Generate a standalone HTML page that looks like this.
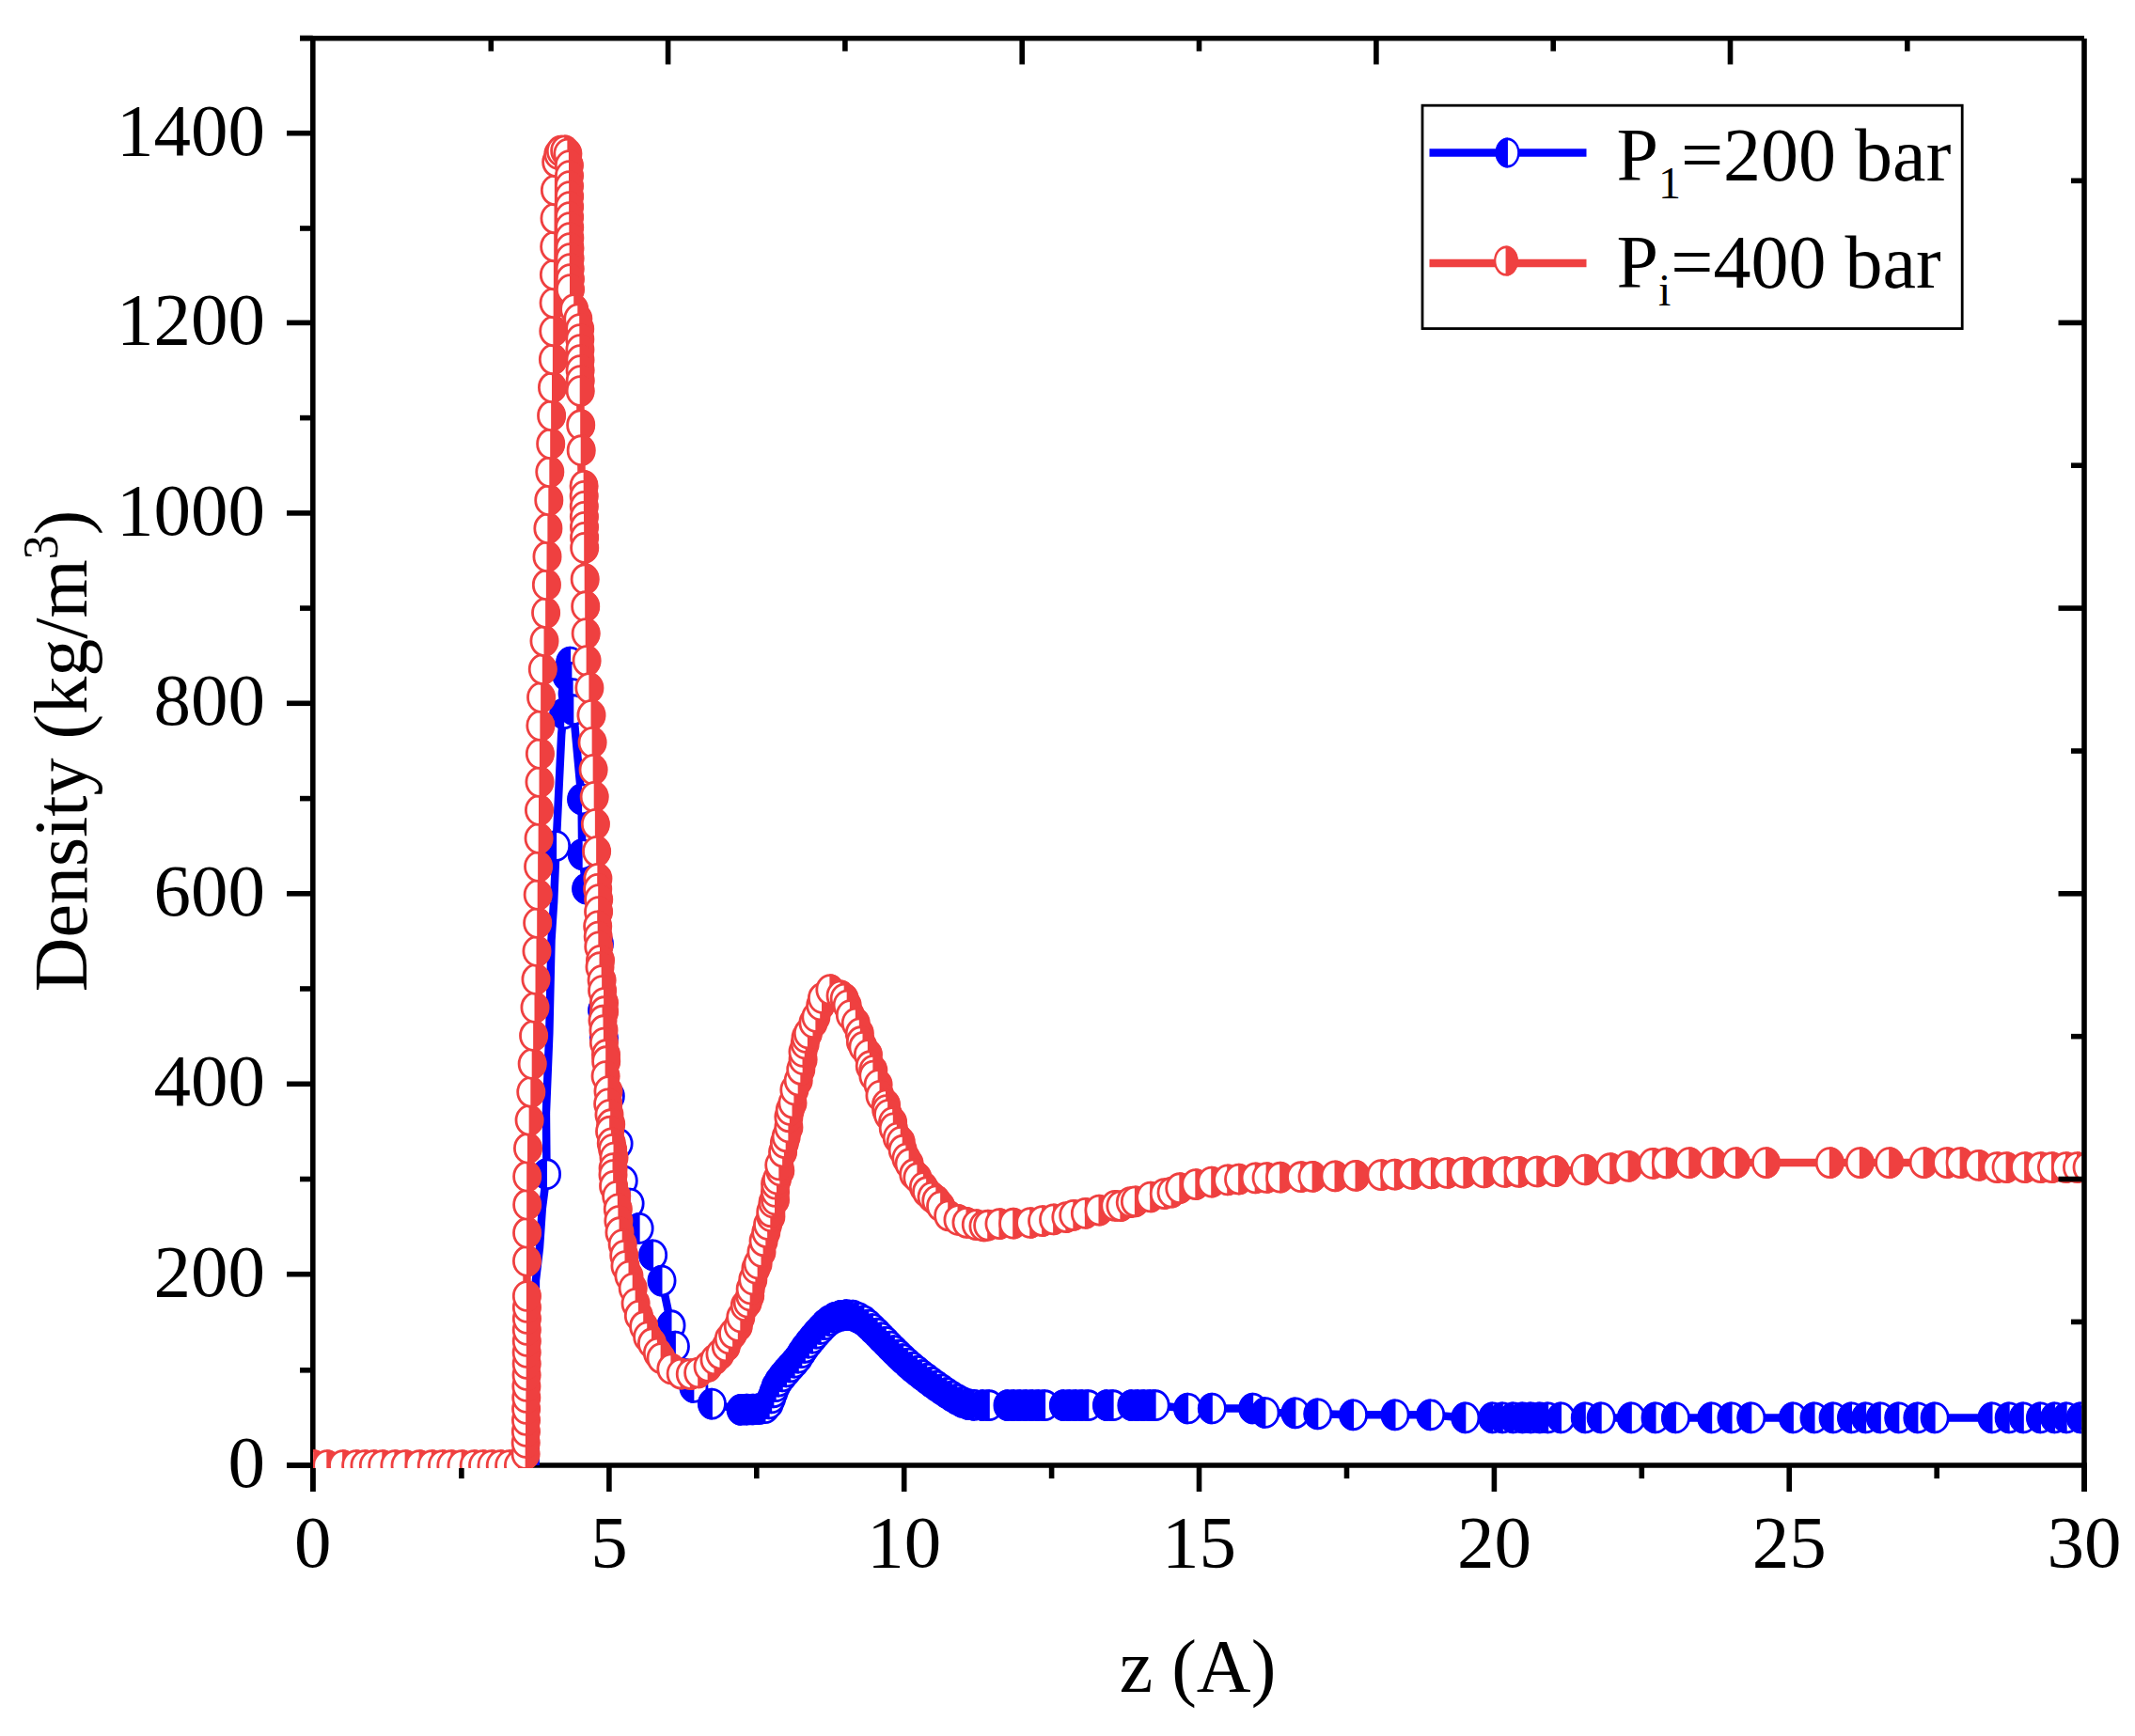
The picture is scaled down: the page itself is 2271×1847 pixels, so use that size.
<!DOCTYPE html>
<html lang="en"><head><meta charset="utf-8"><title>Density profile</title>
<style>html,body{margin:0;padding:0;background:#fff}body{width:2271px;height:1847px;overflow:hidden}svg{display:block}</style>
</head><body>
<svg width="2271" height="1847" viewBox="0 0 2271 1847">
<defs>
<clipPath id="cp"><rect x="333" y="38" width="1881.3" height="1524"/></clipPath>
<g id="mr"><ellipse rx="14.1" ry="15.45" fill="#fff" stroke="#ef4040" stroke-width="2.8"/><path d="M-0.5,-16.849999999999998 A15.5,16.849999999999998 0 0 1 -0.5,16.849999999999998 Z" fill="#ef4040"/></g>
<g id="mb"><ellipse rx="14.1" ry="15.45" fill="#fff" stroke="#0000ff" stroke-width="2.8"/><path d="M0.5,-16.849999999999998 A15.5,16.849999999999998 0 0 0 0.5,16.849999999999998 Z" fill="#0000ff"/></g>
</defs>
<rect width="2271" height="1847" fill="#fff"/>
<g stroke="#000" stroke-width="5.6" fill="none">
<line x1="332.8" y1="38" x2="332.8" y2="1587"/>
<line x1="305" y1="1559.0" x2="2219.8" y2="1559.0"/>
<line x1="305" y1="1559.0" x2="332.8" y2="1559.0"/>
<line x1="319" y1="1457.8" x2="332.8" y2="1457.8"/>
<line x1="305" y1="1355.7" x2="332.8" y2="1355.7"/>
<line x1="319" y1="1254.5" x2="332.8" y2="1254.5"/>
<line x1="305" y1="1153.3" x2="332.8" y2="1153.3"/>
<line x1="319" y1="1052.0" x2="332.8" y2="1052.0"/>
<line x1="305" y1="950.8" x2="332.8" y2="950.8"/>
<line x1="319" y1="849.6" x2="332.8" y2="849.6"/>
<line x1="305" y1="748.3" x2="332.8" y2="748.3"/>
<line x1="319" y1="647.1" x2="332.8" y2="647.1"/>
<line x1="305" y1="545.9" x2="332.8" y2="545.9"/>
<line x1="319" y1="444.6" x2="332.8" y2="444.6"/>
<line x1="305" y1="343.4" x2="332.8" y2="343.4"/>
<line x1="319" y1="243.0" x2="332.8" y2="243.0"/>
<line x1="305" y1="141.7" x2="332.8" y2="141.7"/>
<line x1="319" y1="40.5" x2="332.8" y2="40.5"/>
<line x1="332.8" y1="1559.0" x2="332.8" y2="1587"/>
<line x1="490.9" y1="1559.0" x2="490.9" y2="1573"/>
<line x1="647.9" y1="1559.0" x2="647.9" y2="1587"/>
<line x1="804.8" y1="1559.0" x2="804.8" y2="1573"/>
<line x1="961.7" y1="1559.0" x2="961.7" y2="1587"/>
<line x1="1118.6" y1="1559.0" x2="1118.6" y2="1573"/>
<line x1="1275.5" y1="1559.0" x2="1275.5" y2="1587"/>
<line x1="1432.5" y1="1559.0" x2="1432.5" y2="1573"/>
<line x1="1589.4" y1="1559.0" x2="1589.4" y2="1587"/>
<line x1="1746.3" y1="1559.0" x2="1746.3" y2="1573"/>
<line x1="1903.2" y1="1559.0" x2="1903.2" y2="1587"/>
<line x1="2060.2" y1="1559.0" x2="2060.2" y2="1573"/>
<line x1="2217.1" y1="1559.0" x2="2217.1" y2="1587"/>
</g>
<g clip-path="url(#cp)">
<polyline fill="none" stroke="#0000ff" stroke-width="8.5" stroke-linejoin="round" points="569.6,1559.0 569.9,1362.6 574.0,1327.2 576.8,1285.7 581.5,1249.2 580.9,1184.4 584.3,1099.4 586.5,1000.2 589.1,959.7 591.6,900.0 597.2,781.5 602.9,718.8 606.6,704.6 607.9,720.8 609.1,738.0 609.8,755.2 618.6,850.4 619.2,909.1 623.6,945.5 637.4,1004.2 640.6,1075.1 642.4,1104.5 649.3,1166.2 658.1,1216.8 663.2,1256.3 670.1,1280.6 680.1,1306.9 694.6,1335.3 704.0,1362.6 714.0,1410.2 718.4,1432.5 728.5,1461.8 737.9,1476.0 757.4,1493.6 788.1,1499.8 789.4,1499.8 791.0,1499.7 793.0,1499.7 795.2,1499.7 797.5,1499.7 799.8,1499.6 801.9,1499.5 803.9,1499.3 805.6,1499.1 807.3,1499.1 808.9,1499.2 810.5,1499.1 812.1,1498.9 813.6,1498.4 815.0,1497.6 816.4,1496.2 817.7,1494.3 819.0,1491.8 820.2,1488.9 821.3,1485.7 822.4,1482.5 823.6,1479.3 824.7,1476.4 825.8,1474.0 827.0,1471.9 828.1,1470.1 829.2,1468.4 830.3,1466.9 831.5,1465.4 832.7,1464.0 833.9,1462.4 835.3,1460.8 836.7,1459.1 838.2,1457.4 839.8,1455.7 841.4,1454.0 843.0,1452.2 844.6,1450.4 846.3,1448.6 847.8,1446.6 849.3,1444.7 850.6,1442.7 851.9,1440.7 853.2,1438.7 854.5,1436.5 856.0,1434.3 857.7,1431.9 859.7,1429.4 862.1,1426.6 864.7,1423.4 867.6,1420.0 870.6,1416.6 873.6,1413.2 876.7,1410.1 879.6,1407.3 882.4,1405.1 885.0,1403.4 887.5,1402.1 890.1,1401.0 892.6,1400.3 895.0,1399.7 897.3,1399.4 899.6,1399.2 901.8,1399.1 903.9,1399.1 905.9,1399.4 907.9,1399.8 909.7,1400.4 911.5,1401.2 913.3,1402.1 915.1,1403.1 916.9,1404.1 918.6,1405.2 920.0,1406.2 921.3,1407.3 922.7,1408.5 924.2,1409.9 926.0,1411.6 928.1,1413.7 930.7,1416.3 933.9,1419.4 937.6,1423.1 941.6,1427.2 945.9,1431.6 950.3,1436.1 954.8,1440.6 959.2,1444.8 963.4,1448.7 967.4,1452.2 971.5,1455.6 975.6,1459.0 979.6,1462.2 983.7,1465.3 987.6,1468.3 991.6,1471.2 995.4,1474.0 999.2,1476.7 1003.1,1479.4 1006.9,1482.0 1010.7,1484.5 1014.4,1486.8 1017.9,1488.9 1021.2,1490.7 1024.3,1492.2 1027.2,1493.3 1030.0,1494.1 1032.7,1494.6 1035.2,1494.8 1037.5,1495.0 1039.5,1495.0 1041.2,1495.1 1042.5,1495.2 1045.7,1495.2 1052.3,1495.2 1072.0,1495.2 1078.6,1495.2 1085.2,1495.2 1091.8,1495.2 1098.4,1495.2 1105.0,1495.2 1111.6,1495.2 1131.4,1495.2 1138.0,1495.2 1144.6,1495.2 1151.2,1495.2 1157.8,1495.2 1177.5,1495.2 1184.1,1495.2 1203.9,1495.2 1210.5,1495.2 1217.1,1495.2 1223.7,1495.2 1229.1,1495.2 1263.6,1498.5 1289.3,1498.5 1332.7,1498.5 1345.9,1503.0 1377.9,1503.3 1401.8,1504.3 1439.5,1505.3 1484.0,1505.3 1521.7,1505.3 1558.8,1508.4 1587.7,1508.4 1598.4,1508.4 1609.7,1508.4 1619.7,1508.4 1628.5,1508.4 1637.9,1508.4 1646.7,1508.4 1660.5,1508.4 1686.3,1508.4 1703.2,1508.4 1735.3,1508.4 1761.0,1508.4 1782.4,1508.4 1820.7,1508.4 1842.0,1508.4 1862.8,1508.4 1907.4,1508.4 1930.0,1508.4 1950.1,1508.4 1969.5,1508.4 1984.6,1508.4 2000.3,1508.4 2019.8,1508.4 2039.9,1508.4 2058.1,1508.4 2119.0,1508.4 2137.2,1508.4 2152.3,1508.4 2170.5,1508.4 2185.6,1508.4 2198.2,1508.4 2213.2,1508.4 2223.3,1508.4"/>
<use href="#mb" x="581.5" y="1249.2"/><use href="#mb" x="591.6" y="900.0"/><use href="#mb" x="599.7" y="759.3"/><use href="#mb" x="602.9" y="718.8"/><use href="#mb" x="606.6" y="704.6"/><use href="#mb" x="607.9" y="720.8"/><use href="#mb" x="609.1" y="738.0"/><use href="#mb" x="609.8" y="755.2"/><use href="#mb" x="618.6" y="850.4"/><use href="#mb" x="619.2" y="909.1"/><use href="#mb" x="623.6" y="945.5"/><use href="#mb" x="637.4" y="1004.2"/><use href="#mb" x="640.6" y="1075.1"/><use href="#mb" x="642.4" y="1104.5"/><use href="#mb" x="649.3" y="1166.2"/><use href="#mb" x="658.1" y="1216.8"/><use href="#mb" x="663.2" y="1256.3"/><use href="#mb" x="670.1" y="1280.6"/><use href="#mb" x="680.1" y="1306.9"/><use href="#mb" x="694.6" y="1335.3"/><use href="#mb" x="704.0" y="1362.6"/><use href="#mb" x="714.0" y="1410.2"/><use href="#mb" x="718.4" y="1432.5"/><use href="#mb" x="728.5" y="1461.8"/><use href="#mb" x="737.9" y="1476.0"/><use href="#mb" x="757.4" y="1493.6"/><use href="#mb" x="788.1" y="1499.8"/><use href="#mb" x="794.6" y="1499.7"/><use href="#mb" x="801.1" y="1499.5"/><use href="#mb" x="807.6" y="1499.1"/><use href="#mb" x="814.0" y="1498.2"/><use href="#mb" x="818.2" y="1493.4"/><use href="#mb" x="820.7" y="1487.4"/><use href="#mb" x="822.9" y="1481.3"/><use href="#mb" x="825.2" y="1475.2"/><use href="#mb" x="828.4" y="1469.6"/><use href="#mb" x="832.3" y="1464.4"/><use href="#mb" x="836.5" y="1459.4"/><use href="#mb" x="840.8" y="1454.5"/><use href="#mb" x="845.2" y="1449.7"/><use href="#mb" x="849.3" y="1444.7"/><use href="#mb" x="852.8" y="1439.2"/><use href="#mb" x="856.4" y="1433.8"/><use href="#mb" x="860.4" y="1428.7"/><use href="#mb" x="864.5" y="1423.7"/><use href="#mb" x="868.7" y="1418.7"/><use href="#mb" x="873.1" y="1413.9"/><use href="#mb" x="877.6" y="1409.2"/><use href="#mb" x="882.6" y="1405.0"/><use href="#mb" x="888.2" y="1401.8"/><use href="#mb" x="894.4" y="1399.8"/><use href="#mb" x="900.8" y="1399.1"/><use href="#mb" x="907.3" y="1399.7"/><use href="#mb" x="913.3" y="1402.1"/><use href="#mb" x="918.9" y="1405.4"/><use href="#mb" x="923.9" y="1409.6"/><use href="#mb" x="928.5" y="1414.1"/><use href="#mb" x="933.2" y="1418.7"/><use href="#mb" x="937.7" y="1423.3"/><use href="#mb" x="942.3" y="1427.9"/><use href="#mb" x="946.8" y="1432.6"/><use href="#mb" x="951.4" y="1437.2"/><use href="#mb" x="956.0" y="1441.7"/><use href="#mb" x="960.7" y="1446.2"/><use href="#mb" x="965.6" y="1450.6"/><use href="#mb" x="970.5" y="1454.8"/><use href="#mb" x="975.5" y="1458.9"/><use href="#mb" x="980.6" y="1463.0"/><use href="#mb" x="985.8" y="1466.9"/><use href="#mb" x="991.0" y="1470.8"/><use href="#mb" x="996.3" y="1474.6"/><use href="#mb" x="1001.6" y="1478.3"/><use href="#mb" x="1007.0" y="1482.0"/><use href="#mb" x="1012.4" y="1485.5"/><use href="#mb" x="1018.0" y="1488.9"/><use href="#mb" x="1023.7" y="1491.9"/><use href="#mb" x="1029.9" y="1494.0"/><use href="#mb" x="1036.3" y="1494.9"/><use href="#mb" x="1045.7" y="1495.2"/><use href="#mb" x="1052.3" y="1495.2"/><use href="#mb" x="1072.0" y="1495.2"/><use href="#mb" x="1078.6" y="1495.2"/><use href="#mb" x="1085.2" y="1495.2"/><use href="#mb" x="1091.8" y="1495.2"/><use href="#mb" x="1098.4" y="1495.2"/><use href="#mb" x="1105.0" y="1495.2"/><use href="#mb" x="1111.6" y="1495.2"/><use href="#mb" x="1131.4" y="1495.2"/><use href="#mb" x="1138.0" y="1495.2"/><use href="#mb" x="1144.6" y="1495.2"/><use href="#mb" x="1151.2" y="1495.2"/><use href="#mb" x="1157.8" y="1495.2"/><use href="#mb" x="1177.5" y="1495.2"/><use href="#mb" x="1184.1" y="1495.2"/><use href="#mb" x="1203.9" y="1495.2"/><use href="#mb" x="1210.5" y="1495.2"/><use href="#mb" x="1217.1" y="1495.2"/><use href="#mb" x="1223.7" y="1495.2"/><use href="#mb" x="1229.1" y="1495.2"/><use href="#mb" x="1263.6" y="1498.5"/><use href="#mb" x="1289.3" y="1498.5"/><use href="#mb" x="1332.7" y="1498.5"/><use href="#mb" x="1345.9" y="1503.0"/><use href="#mb" x="1377.9" y="1503.3"/><use href="#mb" x="1401.8" y="1504.3"/><use href="#mb" x="1439.5" y="1505.3"/><use href="#mb" x="1484.0" y="1505.3"/><use href="#mb" x="1521.7" y="1505.3"/><use href="#mb" x="1558.8" y="1508.4"/><use href="#mb" x="1587.7" y="1508.4"/><use href="#mb" x="1598.4" y="1508.4"/><use href="#mb" x="1609.7" y="1508.4"/><use href="#mb" x="1619.7" y="1508.4"/><use href="#mb" x="1628.5" y="1508.4"/><use href="#mb" x="1637.9" y="1508.4"/><use href="#mb" x="1646.7" y="1508.4"/><use href="#mb" x="1660.5" y="1508.4"/><use href="#mb" x="1686.3" y="1508.4"/><use href="#mb" x="1703.2" y="1508.4"/><use href="#mb" x="1735.3" y="1508.4"/><use href="#mb" x="1761.0" y="1508.4"/><use href="#mb" x="1782.4" y="1508.4"/><use href="#mb" x="1820.7" y="1508.4"/><use href="#mb" x="1842.0" y="1508.4"/><use href="#mb" x="1862.8" y="1508.4"/><use href="#mb" x="1907.4" y="1508.4"/><use href="#mb" x="1930.0" y="1508.4"/><use href="#mb" x="1950.1" y="1508.4"/><use href="#mb" x="1969.5" y="1508.4"/><use href="#mb" x="1984.6" y="1508.4"/><use href="#mb" x="2000.3" y="1508.4"/><use href="#mb" x="2019.8" y="1508.4"/><use href="#mb" x="2039.9" y="1508.4"/><use href="#mb" x="2058.1" y="1508.4"/><use href="#mb" x="2119.0" y="1508.4"/><use href="#mb" x="2137.2" y="1508.4"/><use href="#mb" x="2152.3" y="1508.4"/><use href="#mb" x="2170.5" y="1508.4"/><use href="#mb" x="2185.6" y="1508.4"/><use href="#mb" x="2198.2" y="1508.4"/><use href="#mb" x="2213.2" y="1508.4"/><use href="#mb" x="2223.3" y="1508.4"/>
<polyline fill="none" stroke="#ef4040" stroke-width="8.5" stroke-linejoin="round" points="332.8,1559.0 555.8,1559.0 558.9,1559.0 560.2,1457.8 560.5,1371.7 560.8,1235.1 565.2,1154.1 569.0,1073.1 571.5,997.2 575.2,749.1 580.9,647.9 582.1,587.2 588.4,383.7 590.3,203.5 591.9,168.1 595.3,161.0 600.4,160.0 605.4,165.0 605.7,243.0 606.6,318.9 616.7,344.2 617.3,425.2 618.6,506.2 621.1,516.3 621.7,587.2 623.6,698.5 628.6,749.1 631.8,838.2 636.2,941.5 636.2,944.8 636.2,948.3 636.2,952.5 636.2,957.5 636.3,963.9 636.5,971.9 636.9,981.8 637.4,994.1 638.1,1009.5 639.1,1028.1 640.1,1049.0 641.3,1071.3 642.5,1094.2 643.7,1116.9 645.0,1138.5 646.2,1158.1 647.4,1176.6 648.7,1195.1 650.1,1213.4 651.5,1230.9 652.8,1247.5 654.1,1262.7 655.2,1276.2 656.3,1287.7 657.1,1296.5 657.7,1302.6 658.1,1306.9 658.5,1309.8 659.0,1312.3 659.5,1314.8 660.3,1318.2 661.3,1323.1 662.6,1329.5 664.1,1336.7 665.8,1344.4 667.6,1352.4 669.5,1360.4 671.4,1368.1 673.3,1375.4 675.1,1381.8 676.8,1387.6 678.4,1392.8 680.0,1397.7 681.6,1402.2 683.2,1406.6 685.0,1410.8 686.9,1415.0 688.9,1419.3 691.2,1423.7 693.6,1428.2 696.2,1432.7 698.8,1437.1 701.5,1441.3 704.3,1445.1 707.0,1448.6 709.6,1451.7 712.4,1454.3 715.4,1456.4 718.5,1458.3 721.6,1459.8 724.5,1461.1 727.1,1462.1 729.3,1463.0 731.0,1463.8 732.8,1463.1 735.1,1462.3 738.0,1461.3 741.1,1460.1 744.4,1458.8 747.7,1457.3 750.8,1455.6 753.6,1453.7 756.1,1451.7 758.6,1449.6 760.9,1447.4 763.3,1445.0 765.5,1442.3 767.8,1439.4 770.1,1436.1 772.4,1432.5 774.8,1428.5 777.1,1424.4 779.4,1419.9 781.7,1415.2 784.0,1410.1 786.4,1404.5 788.8,1398.5 791.3,1392.0 793.9,1384.8 796.7,1377.0 799.6,1368.6 802.5,1359.9 805.3,1350.9 808.1,1341.6 810.8,1332.4 813.3,1323.1 815.5,1313.9 817.6,1304.4 819.6,1294.8 821.5,1285.1 823.3,1275.3 825.2,1265.3 827.0,1255.3 829.0,1245.2 831.0,1234.9 833.0,1224.3 835.0,1213.6 837.0,1202.8 839.0,1192.1 841.1,1181.5 843.2,1171.2 845.3,1161.2 847.5,1151.2 849.7,1141.2 852.0,1131.3 854.3,1121.5 856.6,1112.2 858.9,1103.5 861.2,1095.4 863.5,1088.3 865.9,1081.9 868.3,1076.1 870.7,1071.0 873.1,1066.4 875.5,1062.5 877.9,1059.3 880.1,1056.7 882.4,1054.9 884.5,1053.8 886.5,1053.4 888.4,1053.8 890.3,1054.9 892.2,1056.5 894.1,1058.6 896.1,1061.1 898.1,1064.0 900.1,1067.3 902.1,1071.3 904.2,1075.7 906.2,1080.7 908.3,1086.0 910.5,1091.6 912.7,1097.4 915.0,1103.5 917.4,1109.8 919.9,1116.6 922.4,1123.7 925.0,1131.1 927.6,1138.6 930.3,1146.2 933.0,1153.8 935.7,1161.2 938.5,1168.6 941.4,1176.2 944.4,1184.0 947.4,1191.7 950.3,1199.3 953.3,1206.6 956.2,1213.5 959.0,1219.9 961.6,1225.7 964.2,1231.1 966.6,1236.0 969.0,1240.7 971.5,1245.2 974.1,1249.6 976.8,1254.0 979.7,1258.3 982.9,1262.8 986.2,1267.3 989.7,1271.8 993.3,1276.2 996.9,1280.3 1000.6,1284.2 1004.3,1287.7 1008.0,1290.7 1011.6,1293.3 1015.1,1295.5 1018.6,1297.3 1022.2,1298.9 1025.9,1300.2 1029.6,1301.2 1033.5,1302.1 1037.5,1302.9 1041.7,1303.4 1045.9,1303.6 1050.3,1303.6 1054.8,1303.4 1059.4,1303.0 1064.1,1302.6 1069.0,1302.2 1073.9,1301.9 1079.0,1301.5 1084.3,1301.2 1089.8,1300.8 1095.3,1300.4 1100.9,1299.9 1106.6,1299.3 1112.2,1298.6 1117.9,1297.8 1123.5,1296.8 1129.2,1295.7 1134.8,1294.5 1140.5,1293.1 1146.3,1291.8 1152.0,1290.4 1157.9,1289.0 1163.7,1287.7 1169.7,1286.4 1175.9,1285.2 1182.2,1283.9 1188.4,1282.7 1194.6,1281.4 1200.7,1280.2 1206.5,1278.9 1212.1,1277.6 1217.6,1276.2 1223.1,1274.6 1228.7,1273.0 1234.0,1271.4 1238.9,1269.8 1243.3,1268.5 1246.9,1267.3 1249.8,1266.4 1254.8,1264.2 1271.8,1260.1 1288.7,1257.6 1305.7,1255.4 1317.6,1254.6 1335.2,1253.4 1347.1,1253.0 1361.6,1252.7 1383.6,1252.2 1396.1,1251.9 1420.0,1251.3 1442.0,1250.8 1469.0,1250.1 1483.4,1249.6 1501.6,1249.0 1522.4,1248.3 1539.3,1248.0 1556.9,1247.7 1578.3,1247.4 1600.2,1247.0 1615.3,1246.8 1634.8,1246.5 1654.3,1246.1 1685.7,1244.5 1712.7,1243.2 1732.1,1240.8 1757.9,1237.9 1772.3,1237.3 1796.8,1237.1 1821.9,1237.1 1846.4,1237.1 1878.5,1237.1 1946.3,1237.1 1978.3,1237.1 2009.7,1237.1 2046.2,1237.1 2070.7,1237.1 2085.1,1237.1 2104.6,1239.9 2124.0,1242.1 2134.1,1242.1 2153.6,1242.1 2170.5,1242.1 2182.5,1242.1 2197.5,1242.1 2209.5,1242.1 2220.1,1242.1"/>
<use href="#mr" x="333.7" y="1559.0"/><use href="#mr" x="347.8" y="1559.0"/><use href="#mr" x="364.6" y="1559.0"/><use href="#mr" x="378.7" y="1559.0"/><use href="#mr" x="388.0" y="1559.0"/><use href="#mr" x="397.4" y="1559.0"/><use href="#mr" x="406.8" y="1559.0"/><use href="#mr" x="419.9" y="1559.0"/><use href="#mr" x="431.1" y="1559.0"/><use href="#mr" x="446.1" y="1559.0"/><use href="#mr" x="459.3" y="1559.0"/><use href="#mr" x="470.5" y="1559.0"/><use href="#mr" x="479.9" y="1559.0"/><use href="#mr" x="491.1" y="1559.0"/><use href="#mr" x="504.2" y="1559.0"/><use href="#mr" x="513.6" y="1559.0"/><use href="#mr" x="523.0" y="1559.0"/><use href="#mr" x="532.3" y="1559.0"/><use href="#mr" x="541.7" y="1559.0"/><use href="#mr" x="551.5" y="1559.0"/><use href="#mr" x="559.1" y="1547.0"/><use href="#mr" x="559.2" y="1535.0"/><use href="#mr" x="559.4" y="1523.0"/><use href="#mr" x="559.5" y="1511.0"/><use href="#mr" x="559.6" y="1499.0"/><use href="#mr" x="559.8" y="1487.0"/><use href="#mr" x="559.9" y="1475.0"/><use href="#mr" x="560.1" y="1463.0"/><use href="#mr" x="560.2" y="1451.0"/><use href="#mr" x="560.2" y="1439.0"/><use href="#mr" x="560.3" y="1427.0"/><use href="#mr" x="560.3" y="1415.0"/><use href="#mr" x="560.4" y="1403.0"/><use href="#mr" x="560.4" y="1391.0"/><use href="#mr" x="560.4" y="1379.0"/><use href="#mr" x="560.5" y="1341.7"/><use href="#mr" x="560.6" y="1311.7"/><use href="#mr" x="560.7" y="1281.7"/><use href="#mr" x="560.7" y="1251.7"/><use href="#mr" x="561.5" y="1221.7"/><use href="#mr" x="563.1" y="1191.8"/><use href="#mr" x="564.8" y="1161.8"/><use href="#mr" x="566.2" y="1131.9"/><use href="#mr" x="567.6" y="1101.9"/><use href="#mr" x="569.0" y="1071.9"/><use href="#mr" x="570.0" y="1041.9"/><use href="#mr" x="571.0" y="1012.0"/><use href="#mr" x="571.7" y="982.0"/><use href="#mr" x="572.2" y="952.0"/><use href="#mr" x="572.6" y="922.0"/><use href="#mr" x="573.1" y="892.0"/><use href="#mr" x="573.5" y="862.0"/><use href="#mr" x="574.0" y="832.0"/><use href="#mr" x="574.4" y="802.0"/><use href="#mr" x="574.9" y="772.0"/><use href="#mr" x="575.6" y="742.0"/><use href="#mr" x="577.3" y="712.1"/><use href="#mr" x="579.0" y="682.1"/><use href="#mr" x="580.6" y="652.1"/><use href="#mr" x="581.4" y="622.2"/><use href="#mr" x="582.0" y="592.2"/><use href="#mr" x="582.9" y="562.2"/><use href="#mr" x="583.8" y="532.2"/><use href="#mr" x="584.8" y="502.2"/><use href="#mr" x="585.7" y="472.2"/><use href="#mr" x="586.6" y="442.2"/><use href="#mr" x="587.5" y="412.2"/><use href="#mr" x="588.4" y="382.3"/><use href="#mr" x="588.8" y="352.3"/><use href="#mr" x="589.1" y="322.3"/><use href="#mr" x="589.4" y="292.3"/><use href="#mr" x="589.7" y="262.3"/><use href="#mr" x="590.0" y="232.3"/><use href="#mr" x="590.4" y="202.3"/><use href="#mr" x="591.7" y="172.3"/><use href="#mr" x="593.8" y="164.0"/><use href="#mr" x="596.4" y="160.7"/><use href="#mr" x="600.7" y="160.3"/><use href="#mr" x="603.9" y="163.5"/><use href="#mr" x="605.4" y="176.0"/><use href="#mr" x="605.5" y="187.0"/><use href="#mr" x="605.5" y="198.0"/><use href="#mr" x="605.6" y="209.0"/><use href="#mr" x="605.6" y="220.0"/><use href="#mr" x="605.6" y="231.0"/><use href="#mr" x="605.7" y="242.0"/><use href="#mr" x="605.8" y="253.0"/><use href="#mr" x="606.0" y="264.0"/><use href="#mr" x="606.1" y="275.0"/><use href="#mr" x="606.2" y="286.0"/><use href="#mr" x="606.4" y="297.0"/><use href="#mr" x="606.5" y="308.0"/><use href="#mr" x="610.7" y="329.1"/><use href="#mr" x="614.8" y="339.3"/><use href="#mr" x="616.7" y="350.0"/><use href="#mr" x="616.8" y="361.0"/><use href="#mr" x="616.9" y="372.0"/><use href="#mr" x="617.0" y="383.0"/><use href="#mr" x="617.1" y="394.0"/><use href="#mr" x="617.2" y="405.0"/><use href="#mr" x="617.2" y="416.0"/><use href="#mr" x="617.7" y="452.2"/><use href="#mr" x="618.2" y="479.2"/><use href="#mr" x="621.1" y="516.9"/><use href="#mr" x="621.2" y="527.9"/><use href="#mr" x="621.3" y="538.9"/><use href="#mr" x="621.4" y="549.9"/><use href="#mr" x="621.5" y="560.9"/><use href="#mr" x="621.6" y="571.9"/><use href="#mr" x="621.7" y="582.9"/><use href="#mr" x="622.2" y="616.2"/><use href="#mr" x="622.7" y="645.2"/><use href="#mr" x="623.2" y="674.1"/><use href="#mr" x="624.1" y="703.1"/><use href="#mr" x="626.9" y="732.0"/><use href="#mr" x="629.0" y="760.9"/><use href="#mr" x="630.1" y="789.9"/><use href="#mr" x="631.1" y="818.9"/><use href="#mr" x="632.2" y="847.8"/><use href="#mr" x="633.4" y="876.8"/><use href="#mr" x="634.6" y="905.8"/><use href="#mr" x="635.9" y="934.8"/><use href="#mr" x="635.7" y="945.9"/><use href="#mr" x="636.7" y="957.0"/><use href="#mr" x="636.6" y="970.0"/><use href="#mr" x="635.7" y="985.4"/><use href="#mr" x="636.2" y="996.6"/><use href="#mr" x="636.8" y="1007.3"/><use href="#mr" x="638.5" y="1021.8"/><use href="#mr" x="638.0" y="1029.1"/><use href="#mr" x="640.1" y="1043.1"/><use href="#mr" x="640.6" y="1054.1"/><use href="#mr" x="642.5" y="1067.0"/><use href="#mr" x="642.6" y="1076.2"/><use href="#mr" x="641.0" y="1085.7"/><use href="#mr" x="642.0" y="1096.2"/><use href="#mr" x="642.4" y="1109.6"/><use href="#mr" x="644.5" y="1122.2"/><use href="#mr" x="644.7" y="1129.2"/><use href="#mr" x="644.1" y="1145.1"/><use href="#mr" x="647.0" y="1161.1"/><use href="#mr" x="646.7" y="1174.4"/><use href="#mr" x="648.0" y="1186.1"/><use href="#mr" x="649.7" y="1196.2"/><use href="#mr" x="648.6" y="1203.7"/><use href="#mr" x="650.3" y="1216.4"/><use href="#mr" x="651.6" y="1222.8"/><use href="#mr" x="653.0" y="1231.5"/><use href="#mr" x="652.1" y="1243.0"/><use href="#mr" x="652.0" y="1250.1"/><use href="#mr" x="652.6" y="1261.9"/><use href="#mr" x="655.7" y="1272.8"/><use href="#mr" x="657.3" y="1286.4"/><use href="#mr" x="657.9" y="1299.0"/><use href="#mr" x="659.0" y="1311.2"/><use href="#mr" x="662.2" y="1324.1"/><use href="#mr" x="663.8" y="1335.9"/><use href="#mr" x="665.0" y="1347.1"/><use href="#mr" x="669.0" y="1357.6"/><use href="#mr" x="673.2" y="1370.6"/><use href="#mr" x="676.1" y="1386.8"/><use href="#mr" x="679.4" y="1399.9"/><use href="#mr" x="684.7" y="1411.2"/><use href="#mr" x="688.7" y="1422.3"/><use href="#mr" x="693.5" y="1429.2"/><use href="#mr" x="699.4" y="1439.6"/><use href="#mr" x="703.1" y="1445.1"/><use href="#mr" x="713.9" y="1456.4"/><use href="#mr" x="724.2" y="1461.6"/><use href="#mr" x="734.3" y="1462.1"/><use href="#mr" x="742.7" y="1460.5"/><use href="#mr" x="753.1" y="1453.9"/><use href="#mr" x="760.0" y="1446.5"/><use href="#mr" x="766.0" y="1440.6"/><use href="#mr" x="772.3" y="1432.4"/><use href="#mr" x="775.3" y="1424.5"/><use href="#mr" x="779.6" y="1418.8"/><use href="#mr" x="785.3" y="1410.9"/><use href="#mr" x="787.8" y="1401.4"/><use href="#mr" x="792.3" y="1389.2"/><use href="#mr" x="795.2" y="1385.7"/><use href="#mr" x="797.7" y="1378.5"/><use href="#mr" x="798.2" y="1371.4"/><use href="#mr" x="800.8" y="1361.4"/><use href="#mr" x="803.9" y="1349.7"/><use href="#mr" x="806.1" y="1344.4"/><use href="#mr" x="810.0" y="1332.0"/><use href="#mr" x="812.1" y="1320.3"/><use href="#mr" x="814.8" y="1311.1"/><use href="#mr" x="816.6" y="1303.0"/><use href="#mr" x="819.9" y="1294.2"/><use href="#mr" x="819.8" y="1289.3"/><use href="#mr" x="821.9" y="1279.4"/><use href="#mr" x="824.5" y="1276.4"/><use href="#mr" x="824.5" y="1268.0"/><use href="#mr" x="824.6" y="1259.6"/><use href="#mr" x="826.5" y="1254.5"/><use href="#mr" x="829.8" y="1245.5"/><use href="#mr" x="828.8" y="1239.5"/><use href="#mr" x="832.6" y="1225.6"/><use href="#mr" x="834.4" y="1216.1"/><use href="#mr" x="836.2" y="1209.3"/><use href="#mr" x="838.9" y="1199.4"/><use href="#mr" x="838.9" y="1188.3"/><use href="#mr" x="840.3" y="1181.0"/><use href="#mr" x="843.0" y="1173.6"/><use href="#mr" x="844.9" y="1159.5"/><use href="#mr" x="849.2" y="1149.6"/><use href="#mr" x="851.8" y="1137.8"/><use href="#mr" x="854.1" y="1127.2"/><use href="#mr" x="854.0" y="1119.0"/><use href="#mr" x="856.2" y="1110.4"/><use href="#mr" x="857.1" y="1103.9"/><use href="#mr" x="859.4" y="1099.4"/><use href="#mr" x="865.0" y="1088.2"/><use href="#mr" x="867.9" y="1082.0"/><use href="#mr" x="872.7" y="1069.5"/><use href="#mr" x="874.5" y="1061.9"/><use href="#mr" x="882.9" y="1053.1"/><use href="#mr" x="894.1" y="1059.4"/><use href="#mr" x="898.2" y="1062.5"/><use href="#mr" x="901.2" y="1069.5"/><use href="#mr" x="904.4" y="1080.0"/><use href="#mr" x="910.3" y="1088.6"/><use href="#mr" x="914.3" y="1099.4"/><use href="#mr" x="915.4" y="1108.2"/><use href="#mr" x="918.0" y="1113.9"/><use href="#mr" x="923.4" y="1122.0"/><use href="#mr" x="925.3" y="1134.2"/><use href="#mr" x="928.8" y="1138.8"/><use href="#mr" x="928.9" y="1144.5"/><use href="#mr" x="934.1" y="1154.1"/><use href="#mr" x="936.0" y="1165.8"/><use href="#mr" x="942.5" y="1175.4"/><use href="#mr" x="942.7" y="1181.0"/><use href="#mr" x="944.6" y="1186.1"/><use href="#mr" x="949.6" y="1194.0"/><use href="#mr" x="950.3" y="1200.4"/><use href="#mr" x="954.3" y="1210.6"/><use href="#mr" x="958.2" y="1214.8"/><use href="#mr" x="960.2" y="1223.7"/><use href="#mr" x="963.9" y="1232.5"/><use href="#mr" x="967.1" y="1238.2"/><use href="#mr" x="971.8" y="1249.2"/><use href="#mr" x="975.9" y="1253.2"/><use href="#mr" x="982.4" y="1263.0"/><use href="#mr" x="985.6" y="1268.2"/><use href="#mr" x="991.1" y="1273.6"/><use href="#mr" x="995.8" y="1277.4"/><use href="#mr" x="1000.6" y="1283.3"/><use href="#mr" x="1008.7" y="1293.3"/><use href="#mr" x="1019.0" y="1297.9"/><use href="#mr" x="1028.0" y="1300.8"/><use href="#mr" x="1038.3" y="1303.1"/><use href="#mr" x="1046.0" y="1304.5"/><use href="#mr" x="1050.7" y="1303.7"/><use href="#mr" x="1063.0" y="1302.1"/><use href="#mr" x="1077.7" y="1301.7"/><use href="#mr" x="1095.7" y="1301.0"/><use href="#mr" x="1108.6" y="1299.1"/><use href="#mr" x="1120.6" y="1297.4"/><use href="#mr" x="1133.9" y="1295.1"/><use href="#mr" x="1141.8" y="1292.9"/><use href="#mr" x="1154.4" y="1290.9"/><use href="#mr" x="1169.0" y="1287.6"/><use href="#mr" x="1185.9" y="1282.8"/><use href="#mr" x="1191.9" y="1283.1"/><use href="#mr" x="1202.3" y="1279.1"/><use href="#mr" x="1207.4" y="1278.3"/><use href="#mr" x="1223.7" y="1273.5"/><use href="#mr" x="1238.3" y="1270.1"/><use href="#mr" x="1246.1" y="1268.7"/><use href="#mr" x="1254.8" y="1264.2"/><use href="#mr" x="1271.8" y="1260.1"/><use href="#mr" x="1288.7" y="1257.6"/><use href="#mr" x="1305.7" y="1255.4"/><use href="#mr" x="1317.6" y="1254.6"/><use href="#mr" x="1335.2" y="1253.4"/><use href="#mr" x="1347.1" y="1253.0"/><use href="#mr" x="1361.6" y="1252.7"/><use href="#mr" x="1383.6" y="1252.2"/><use href="#mr" x="1396.1" y="1251.9"/><use href="#mr" x="1420.0" y="1251.3"/><use href="#mr" x="1442.0" y="1250.8"/><use href="#mr" x="1469.0" y="1250.1"/><use href="#mr" x="1483.4" y="1249.6"/><use href="#mr" x="1501.6" y="1249.0"/><use href="#mr" x="1522.4" y="1248.3"/><use href="#mr" x="1539.3" y="1248.0"/><use href="#mr" x="1556.9" y="1247.7"/><use href="#mr" x="1578.3" y="1247.4"/><use href="#mr" x="1600.2" y="1247.0"/><use href="#mr" x="1615.3" y="1246.8"/><use href="#mr" x="1634.8" y="1246.5"/><use href="#mr" x="1654.3" y="1246.1"/><use href="#mr" x="1685.7" y="1244.5"/><use href="#mr" x="1712.7" y="1243.2"/><use href="#mr" x="1732.1" y="1240.8"/><use href="#mr" x="1757.9" y="1237.9"/><use href="#mr" x="1772.3" y="1237.3"/><use href="#mr" x="1796.8" y="1237.1"/><use href="#mr" x="1821.9" y="1237.1"/><use href="#mr" x="1846.4" y="1237.1"/><use href="#mr" x="1878.5" y="1237.1"/><use href="#mr" x="1946.3" y="1237.1"/><use href="#mr" x="1978.3" y="1237.1"/><use href="#mr" x="2009.7" y="1237.1"/><use href="#mr" x="2046.2" y="1237.1"/><use href="#mr" x="2070.7" y="1237.1"/><use href="#mr" x="2085.1" y="1237.1"/><use href="#mr" x="2104.6" y="1239.9"/><use href="#mr" x="2124.0" y="1242.1"/><use href="#mr" x="2134.1" y="1242.1"/><use href="#mr" x="2153.6" y="1242.1"/><use href="#mr" x="2170.5" y="1242.1"/><use href="#mr" x="2182.5" y="1242.1"/><use href="#mr" x="2197.5" y="1242.1"/><use href="#mr" x="2209.5" y="1242.1"/><use href="#mr" x="2220.1" y="1242.1"/>
</g>
<g stroke="#000" stroke-width="5.6" fill="none">
<line x1="319" y1="40.7" x2="2217.0" y2="40.7"/>
<line x1="2217.0" y1="41" x2="2217.0" y2="1587"/>
<line x1="522.3" y1="40.5" x2="522.3" y2="54.5"/>
<line x1="710.6" y1="40.5" x2="710.6" y2="68.5"/>
<line x1="898.9" y1="40.5" x2="898.9" y2="54.5"/>
<line x1="1087.2" y1="40.5" x2="1087.2" y2="68.5"/>
<line x1="1275.5" y1="40.5" x2="1275.5" y2="54.5"/>
<line x1="1463.9" y1="40.5" x2="1463.9" y2="68.5"/>
<line x1="1652.2" y1="40.5" x2="1652.2" y2="54.5"/>
<line x1="1840.5" y1="40.5" x2="1840.5" y2="68.5"/>
<line x1="2028.8" y1="40.5" x2="2028.8" y2="54.5"/>
<line x1="2217.0" y1="1406.4" x2="2203" y2="1406.4"/>
<line x1="2217.0" y1="1254.5" x2="2189.5" y2="1254.5"/>
<line x1="2217.0" y1="1102.7" x2="2203" y2="1102.7"/>
<line x1="2217.0" y1="950.8" x2="2189.5" y2="950.8"/>
<line x1="2217.0" y1="799.0" x2="2203" y2="799.0"/>
<line x1="2217.0" y1="647.1" x2="2189.5" y2="647.1"/>
<line x1="2217.0" y1="495.2" x2="2203" y2="495.2"/>
<line x1="2217.0" y1="343.4" x2="2189.5" y2="343.4"/>
<line x1="2217.0" y1="192.3" x2="2203" y2="192.3"/>
</g>
<g font-family="'Liberation Serif', serif" font-size="79" fill="#000">
 <text x="282" y="1581.8" text-anchor="end">0</text>
 <text x="282" y="1378.5" text-anchor="end">200</text>
 <text x="282" y="1176.1" text-anchor="end">400</text>
 <text x="282" y="973.6" text-anchor="end">600</text>
 <text x="282" y="771.1" text-anchor="end">800</text>
 <text x="282" y="568.7" text-anchor="end">1000</text>
 <text x="282" y="366.2" text-anchor="end">1200</text>
 <text x="282" y="164.5" text-anchor="end">1400</text>
<text x="332.8" y="1666.6" text-anchor="middle">0</text>
<text x="647.9" y="1666.6" text-anchor="middle">5</text>
<text x="961.7" y="1666.6" text-anchor="middle">10</text>
<text x="1275.5" y="1666.6" text-anchor="middle">15</text>
<text x="1589.4" y="1666.6" text-anchor="middle">20</text>
<text x="1903.2" y="1666.6" text-anchor="middle">25</text>
<text x="2217.1" y="1666.6" text-anchor="middle">30</text>
<text x="1274" y="1799.5" text-anchor="middle" font-size="80">z (A)</text>
<text transform="translate(91.5,799) rotate(-90)" text-anchor="middle" font-size="80">Density (kg/m<tspan font-size="52" dy="-31">3</tspan><tspan dy="31">)</tspan></text>
<rect x="1513" y="112.2" width="574.1999999999998" height="237.40000000000003" fill="#fff" stroke="#000" stroke-width="2.8"/>
<text x="1719.5" y="191.5" font-size="80">P<tspan font-size="48" dy="19">1</tspan><tspan dy="-19">=200 bar</tspan></text>
<text x="1719.5" y="305.5" font-size="80">P<tspan font-size="48" dy="19">i</tspan><tspan dy="-19">=400 bar</tspan></text>
</g>
<line x1="1520.5" y1="162.5" x2="1687.5" y2="162.5" stroke="#0000ff" stroke-width="8.5"/>
<use href="#mb" transform="translate(1603.5,162.5) scale(0.84,0.95)"/>
<line x1="1520.5" y1="280" x2="1687.5" y2="280" stroke="#ef4040" stroke-width="8.5"/>
<use href="#mr" transform="translate(1602,277.6) scale(0.84,0.95)"/>
</svg>
</body></html>
